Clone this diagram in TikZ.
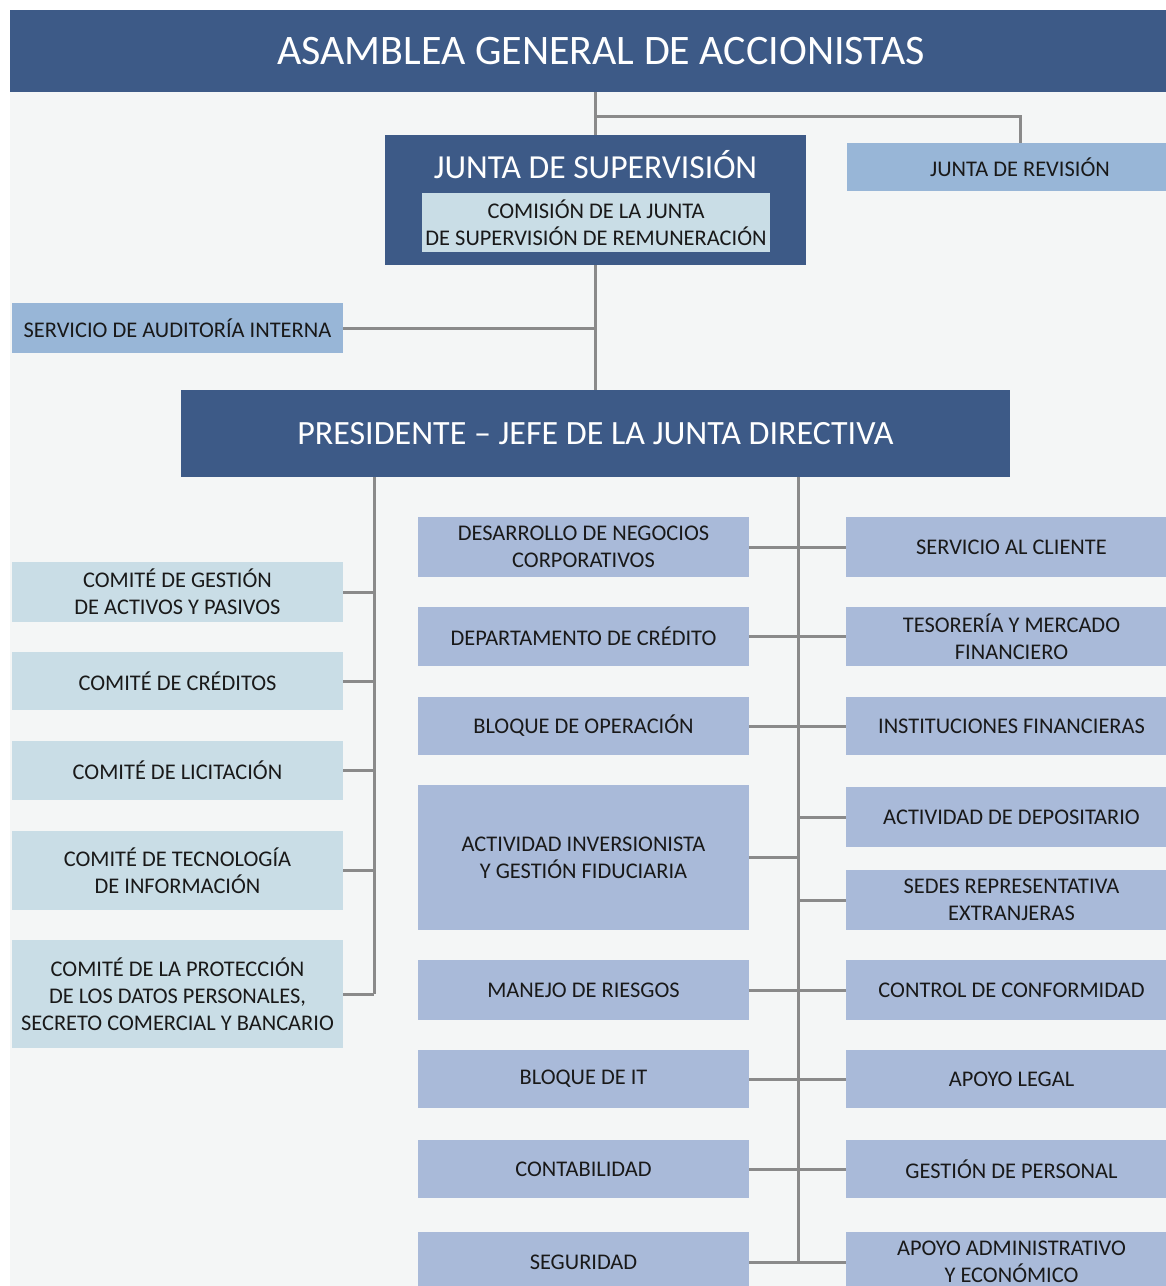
\documentclass[tikz,border=0pt]{standalone}
\usepackage{fontspec}
\setmainfont{Carlito}
\usepackage{tikz}
\usetikzlibrary{positioning}
\usepackage{xcolor}
\definecolor{paper}{RGB}{244,246,246}
\definecolor{boarddark}{RGB}{61,90,135}
\definecolor{skyblue}{RGB}{152,182,215}
\definecolor{unitblue}{RGB}{169,186,217}
\definecolor{paleblue}{RGB}{201,221,230}
\definecolor{linkgray}{RGB}{138,138,138}
\tikzset{%
	every unit/.style={
		rectangle,
		inner sep=0pt,
		align=center,
		text=black!90,
		font=\fontsize{22.4}{27}\selectfont
	},
	board/.style={
		every unit,
		fill=boarddark,
		text=white
	},
	audit/.style={every unit, fill=skyblue},
	division/.style={every unit, fill=unitblue, minimum width=331pt},
	committee/.style={every unit, fill=paleblue, minimum width=331pt},
	link/.style={draw=linkgray, line width=3pt},
}

\begin{document}
\begin{tikzpicture}[x=1pt,y=-1pt]
	\useasboundingbox (0,0) rectangle (1166,1286);
	\clip (0,0) rectangle (1166,1286);
	\fill[paper] (10,10) rectangle (1166,1286);

	% Draw the top levels
	\node[board, minimum width=1182pt, minimum height=82pt,
		font=\fontsize{42}{48}\selectfont] (asamblea) at (601,51) {ASAMBLEA GENERAL DE ACCIONISTAS};
	\node[board, minimum width=421pt, minimum height=130pt] (junta) at (595.5,200) {};
	\node[board, font=\fontsize{33.6}{38}\selectfont] (juntatitle) at (595.5,165) {JUNTA DE SUPERVISIÓN};
	\node[committee, minimum width=348pt, minimum height=59pt] (comision) at (596,222.5)
		{COMISIÓN DE LA JUNTA\\DE SUPERVISIÓN DE REMUNERACIÓN};
	\node[audit, minimum width=346pt, minimum height=48pt] (revision) at (1020,167) {JUNTA DE REVISIÓN};
	\node[audit, minimum width=331pt, minimum height=50pt] (auditoria) at (177.5,328) {SERVICIO DE AUDITORÍA INTERNA};
	\node[board, minimum width=829pt, minimum height=87pt,
		font=\fontsize{34}{38}\selectfont] (presidente) at (595.5,433.5) {PRESIDENTE -- JEFE DE LA JUNTA DIRECTIVA};

	% Draw the committees
	\node[committee, minimum height=60pt] (gestion) at (177.5,592) {COMITÉ DE GESTIÓN\\DE ACTIVOS Y PASIVOS};
	\node[committee, minimum height=58pt] (creditos) at (177.5,681) {COMITÉ DE CRÉDITOS};
	\node[committee, minimum height=59pt] (licitacion) at (177.5,770.5) {COMITÉ DE LICITACIÓN};
	\node[committee, minimum height=79pt] (tecnologia) at (177.5,870.5) {COMITÉ DE TECNOLOGÍA\\DE INFORMACIÓN};
	\node[committee, minimum height=108pt] (proteccion) at (177.5,994)
		{COMITÉ DE LA PROTECCIÓN\\DE LOS DATOS PERSONALES,\\SECRETO COMERCIAL Y BANCARIO};

	% Draw the middle column
	\node[division, minimum height=60pt] (desarrollo) at (583.5,547) {DESARROLLO DE NEGOCIOS\\CORPORATIVOS};
	\node[division, minimum height=59pt] (credito) at (583.5,636.5) {DEPARTAMENTO DE CRÉDITO};
	\node[division, minimum height=58pt] (operacion) at (583.5,726) {BLOQUE DE OPERACIÓN};
	\node[division, minimum height=145pt] (inversion) at (583.5,857.5) {ACTIVIDAD INVERSIONISTA\\Y GESTIÓN FIDUCIARIA};
	\node[division, minimum height=60pt] (riesgos) at (583.5,990) {MANEJO DE RIESGOS};
	\node[division, minimum height=58pt] (bloqueit) at (583.5,1079) {BLOQUE DE IT};
	\node[division, minimum height=58pt] (contabilidad) at (583.5,1169) {CONTABILIDAD};
	\node[division, minimum height=60pt] (seguridad) at (583.5,1262) {SEGURIDAD};

	% Draw the right column
	\node[division, minimum height=60pt] (cliente) at (1011.5,547) {SERVICIO AL CLIENTE};
	\node[division, minimum height=59pt] (tesoreria) at (1011.5,636.5) {TESORERÍA Y MERCADO\\FINANCIERO};
	\node[division, minimum height=58pt] (instituciones) at (1011.5,726) {INSTITUCIONES FINANCIERAS};
	\node[division, minimum height=60pt] (depositario) at (1011.5,817) {ACTIVIDAD DE DEPOSITARIO};
	\node[division, minimum height=60pt] (sedes) at (1011.5,900) {SEDES REPRESENTATIVA\\EXTRANJERAS};
	\node[division, minimum height=60pt] (conformidad) at (1011.5,990) {CONTROL DE CONFORMIDAD};
	\node[division, minimum height=58pt] (legal) at (1011.5,1079) {APOYO LEGAL};
	\node[division, minimum height=58pt] (personal) at (1011.5,1169) {GESTIÓN DE PERSONAL};
	\node[division, minimum height=60pt] (administrativo) at (1011.5,1262) {APOYO ADMINISTRATIVO\\Y ECONÓMICO};

	% Draw the connectors
	\coordinate (split) at (595.5,116);
	\coordinate (ltrunk) at (374,0);
	\coordinate (rtrunk) at (798,0);
	\draw[link] (asamblea.south -| junta.north) -- (junta.north);
	\draw[link] (split) -| (revision.north);
	\draw[link] (junta.south) -- (presidente.north);
	\draw[link] (auditoria.east) -- (auditoria.east -| junta.south);
	\draw[link] (presidente.south -| ltrunk) -- (proteccion.east -| ltrunk);
	\foreach \b in {gestion,creditos,licitacion,tecnologia,proteccion}
		\draw[link] (\b.east) -- (\b.east -| ltrunk);
	\draw[link] (presidente.south -| rtrunk) -- (seguridad.east -| rtrunk);
	\foreach \b in {desarrollo,credito,operacion,inversion,riesgos,bloqueit,contabilidad,seguridad}
		\draw[link] (\b.east) -- (\b.east -| rtrunk);
	\foreach \b in {cliente,tesoreria,instituciones,depositario,sedes,conformidad,legal,personal,administrativo}
		\draw[link] (\b.west) -- (\b.west -| rtrunk);
\end{tikzpicture}
\end{document}
